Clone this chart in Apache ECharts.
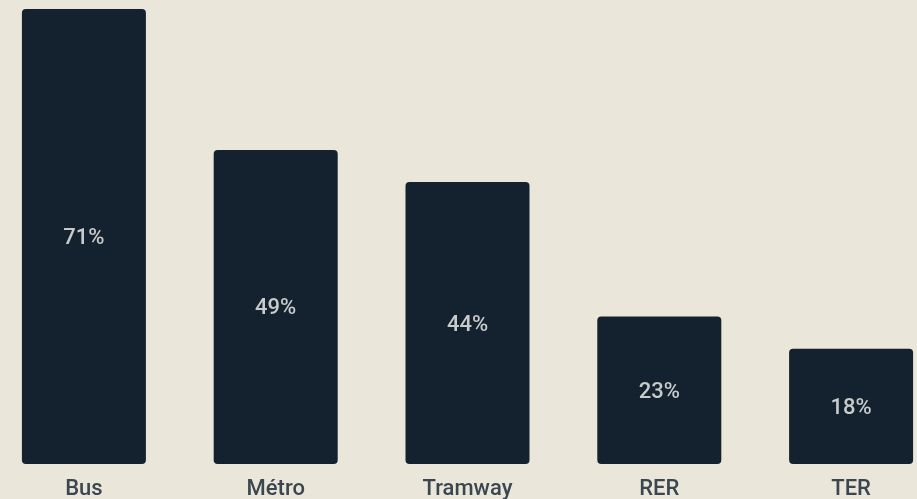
<!DOCTYPE html>
<html>
<head>
<meta charset="utf-8">
<script src="https://cdn.jsdelivr.net/npm/echarts@6/dist/echarts.min.js"></script>
<style>
html,body{margin:0;padding:0;background:#ebe6da;overflow:hidden;width:917px;height:499px;}
#c{position:absolute;left:-12.4px;top:0;width:959.4px;height:499px;}
</style>
</head>
<body>
<div id="c"></div>
<script>
const categories = ['Bus', 'Métro', 'Tramway', 'RER', 'TER'];
const values = [71, 49, 44, 23, 18];

const chart = echarts.init(document.getElementById('c'), null, {renderer: 'canvas'});
chart.setOption({
  backgroundColor: '#ebe6da',
  animation: false,
  grid: {left: 0, right: 0, top: 9, bottom: 35, containLabel: false, outerBoundsMode: 'none'},
  xAxis: {
    type: 'category',
    data: categories,
    axisLine: {show: false},
    axisTick: {show: false},
    axisLabel: {color: '#3a4750', fontFamily: 'Roboto', fontSize: 22, fontWeight: 500, margin: 14}
  },
  yAxis: {type: 'value', min: 0, max: 71, show: false},
  series: [{
    type: 'bar',
    data: values,
    barWidth: 124,
    itemStyle: {color: '#13222e', borderRadius: 4},
    label: {
      show: true,
      position: 'inside',
      offset: [0, 2],
      formatter: '{c}%',
      color: '#c9cbcb',
      fontFamily: 'Roboto',
      fontSize: 22,
      fontWeight: 500
    }
  }]
});
</script>
</body>
</html>
